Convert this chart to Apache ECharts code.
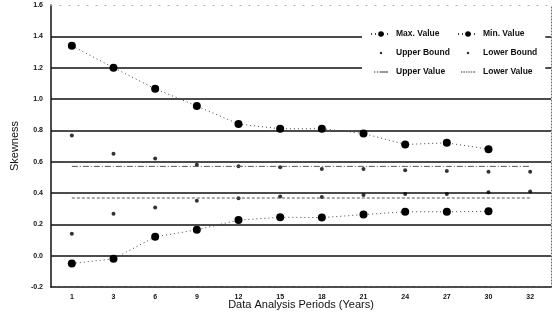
<!DOCTYPE html>
<html>
<head>
<meta charset="utf-8">
<script src="https://cdn.jsdelivr.net/npm/echarts@6/dist/echarts.min.js"></script>
<style>
  html, body { margin: 0; padding: 0; background: #fff; }
  #chart { width: 558px; height: 328px; }
</style>
</head>
<body>
<div id="chart"></div>
<script>
// Analysis periods (years)
const periods = ['1', '3', '6', '9', '12', '15', '18', '21', '24', '27', '30', '32'];

// Skewness per period
const maxValue   = [1.34, 1.20, 1.065, 0.955, 0.84, 0.81, 0.81, 0.78, 0.71, 0.72, 0.68, null];
const minValue   = [-0.05, -0.02, 0.12, 0.165, 0.227, 0.245, 0.243, 0.262, 0.28, 0.28, 0.283, null];
const upperBound = [0.767, 0.65, 0.62, 0.58, 0.57, 0.565, 0.553, 0.553, 0.545, 0.54, 0.535, 0.535];
const lowerBound = [0.14, 0.268, 0.307, 0.35, 0.367, 0.377, 0.375, 0.388, 0.394, 0.394, 0.405, 0.41];
const upperValue = [0.57, 0.57, 0.57, 0.57, 0.57, 0.57, 0.57, 0.57, 0.57, 0.57, 0.57, 0.57];
const lowerValue = [0.368, 0.368, 0.368, 0.368, 0.368, 0.368, 0.368, 0.368, 0.368, 0.368, 0.368, 0.368];

const yTicks = { min: -0.2, max: 1.6, interval: 0.2 };

const FONT = 'Liberation Sans, Arial, sans-serif';
const chart = echarts.init(document.getElementById('chart'));

// legend keys drawn in a 20x10 box (the leading moves fix the box size)
const BOX = 'M0,0 M20,10 ';
const smallDotIcon = 'path://' + BOX + 'M10,3.2 A1.8,1.8 0 1,1 10,6.8 A1.8,1.8 0 1,1 10,3.2 Z';
const dashSeg = (a, b) => `M${a},4.3 L${b},4.3 L${b},5.7 L${a},5.7 Z `;
const dashDotIcon = 'path://' + BOX + dashSeg(0, 2) + dashSeg(4, 6) + dashSeg(8, 20);
const dashIcon = 'path://' + BOX + dashSeg(0, 2) + dashSeg(3.5, 5.5) + dashSeg(7, 9) +
  dashSeg(10.5, 12.5) + dashSeg(14, 16) + dashSeg(17.5, 20);

const legendText = { fontFamily: FONT, fontSize: 8.5, fontWeight: 'bold', color: '#111', lineHeight: 10 };
const legendBase = {
  orient: 'vertical', top: 21, itemWidth: 20, itemHeight: 7, itemGap: 9,
  backgroundColor: '#fff', textStyle: legendText, selectedMode: false
};

chart.setOption({
  animation: false,
  backgroundColor: '#fff',
  grid: { left: 51, right: 7, top: 5, bottom: 41, outerBoundsMode: 'none', containLabel: false },
  legend: [
    Object.assign({}, legendBase, {
      left: 362, padding: [8, 4, 6, 8],
      data: ['Max. Value',
             { name: 'Upper Bound', icon: smallDotIcon },
             { name: 'Upper Value', icon: dashDotIcon, itemStyle: { color: '#333' } }]
    }),
    Object.assign({}, legendBase, {
      left: 449, padding: [8, 8, 6, 8],
      data: ['Min. Value',
             { name: 'Lower Bound', icon: smallDotIcon },
             { name: 'Lower Value', icon: dashIcon, itemStyle: { color: '#333' } }]
    })
  ],
  xAxis: [{
    type: 'category',
    data: periods,
    name: 'Data Analysis Periods (Years)',
    nameLocation: 'middle',
    nameGap: 12,
    nameMoveOverlap: false,
    nameTextStyle: { fontFamily: FONT, fontSize: 11, color: '#111', verticalAlign: 'top' },
    axisLine: { onZero: false, lineStyle: { color: '#111', width: 1.5, type: [5, 1] } },
    axisTick: { show: false },
    axisLabel: { fontFamily: FONT, fontSize: 7, fontWeight: 'bold', color: '#111', margin: 7 },
    splitLine: { show: false }
  }, {
    type: 'category',
    data: periods,
    position: 'top',
    axisLine: { onZero: false, lineStyle: { color: '#aaa', width: 1, type: [1, 8] } },
    axisTick: { show: false },
    axisLabel: { show: false }
  }],
  yAxis: [{
    type: 'value',
    min: yTicks.min, max: yTicks.max, interval: yTicks.interval,
    name: 'Skewness',
    nameLocation: 'middle',
    nameGap: 31,
    nameMoveOverlap: false,
    nameTextStyle: { fontFamily: FONT, fontSize: 11, color: '#111' },
    axisLine: { show: true, onZero: false, lineStyle: { color: '#111', width: 1.5 } },
    axisTick: { show: false },
    axisLabel: {
      fontFamily: FONT, fontSize: 7, fontWeight: 'bold', color: '#111', margin: 8,
      formatter: v => v.toFixed(1)
    },
    splitLine: { show: true, showMinLine: false, showMaxLine: false, lineStyle: { color: '#111', width: 1.5 } }
  }, {
    type: 'value',
    position: 'right',
    min: yTicks.min, max: yTicks.max, interval: yTicks.interval,
    axisLine: { show: true, onZero: false, lineStyle: { color: '#666', width: 1, type: [1, 2] } },
    axisTick: { show: false },
    axisLabel: { show: false },
    splitLine: { show: false }
  }],
  series: [
    {
      name: 'Max. Value', type: 'line', data: maxValue,
      symbol: 'circle', symbolSize: 8,
      itemStyle: { color: '#000' },
      lineStyle: { color: '#444', width: 1, type: [1, 3] }
    },
    {
      name: 'Min. Value', type: 'line', data: minValue,
      symbol: 'circle', symbolSize: 8,
      itemStyle: { color: '#000' },
      lineStyle: { color: '#444', width: 1, type: [1, 3] }
    },
    {
      name: 'Upper Bound', type: 'scatter', data: upperBound,
      symbol: 'circle', symbolSize: 4,
      itemStyle: { color: '#000' }
    },
    {
      name: 'Lower Bound', type: 'scatter', data: lowerBound,
      symbol: 'circle', symbolSize: 4,
      itemStyle: { color: '#000' }
    },
    {
      name: 'Upper Value', type: 'line', data: upperValue,
      symbol: 'none',
      itemStyle: { color: '#555' },
      lineStyle: { color: '#555', width: 1, type: [6, 2, 1, 2] }
    },
    {
      name: 'Lower Value', type: 'line', data: lowerValue,
      symbol: 'none',
      itemStyle: { color: '#555' },
      lineStyle: { color: '#555', width: 1, type: [3, 2] }
    }
  ]
});
</script>
</body>
</html>
